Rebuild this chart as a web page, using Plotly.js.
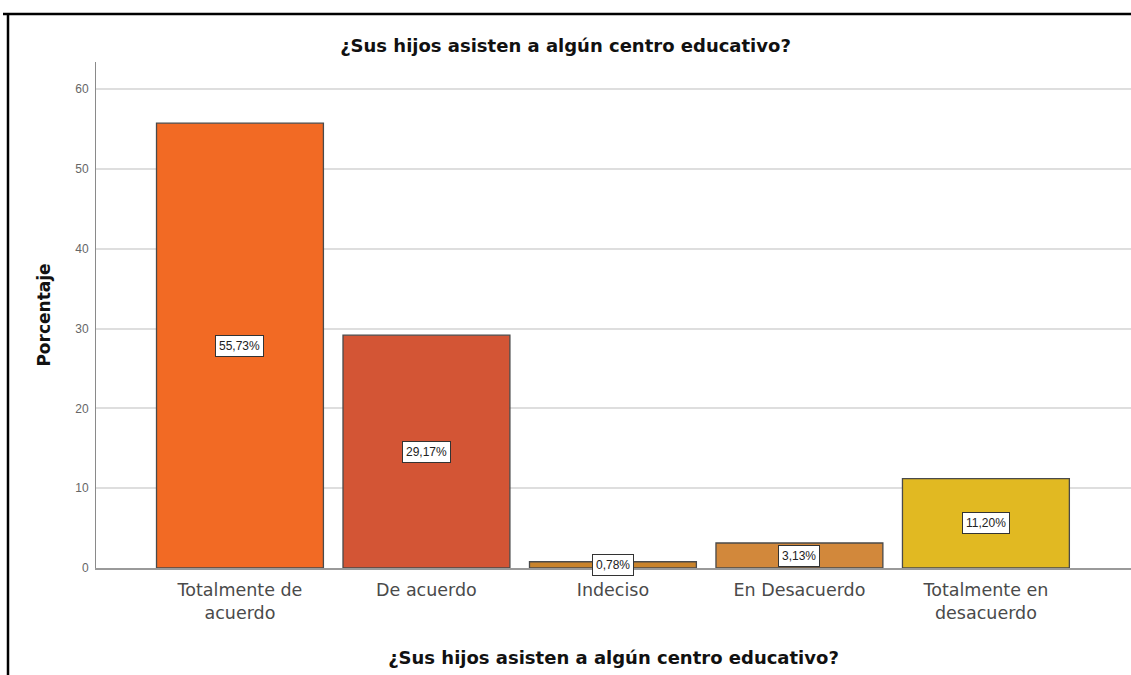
<!DOCTYPE html>
<html>
<head>
<meta charset="utf-8">
<script src="https://cdn.plot.ly/plotly-3.0.1.min.js"></script>
<style>html,body{margin:0;padding:0;background:#fff;}#chart{width:1131px;height:675px;}</style>
</head>
<body>
<div id="chart"></div>
<script>
const chartTitle = '¿Sus hijos asisten a algún centro educativo?';
const categories = ['Totalmente de acuerdo', 'De acuerdo', 'Indeciso', 'En Desacuerdo', 'Totalmente en desacuerdo'];
const tickLabels = ['Totalmente de<br>acuerdo', 'De acuerdo', 'Indeciso', 'En Desacuerdo', 'Totalmente en<br>desacuerdo'];
const percentages = [55.73, 29.17, 0.78, 3.13, 11.20];
const barColors = ['#F26A24', '#D35535', '#C9832B', '#D2883B', '#E1B922'];
const yTickValues = [0, 10, 20, 30, 40, 50, 60];

const fmt = v => v.toFixed(2).replace('.', ',') + '%';

const trace = {
  type: 'bar',
  x: categories,
  y: percentages,
  marker: { color: barColors, line: { color: '#4a4a4a', width: 1.3 } },
  hoverinfo: 'x+y',
  showlegend: false
};

const annotations = categories.map((c, i) => ({
  x: c, y: percentages[i] / 2, xref: 'x', yref: 'y',
  text: fmt(percentages[i]), showarrow: false,
  bgcolor: '#ffffff', bordercolor: '#333333', borderwidth: 1, borderpad: 3,
  font: { family: 'Liberation Sans, Arial, sans-serif', size: 12, color: '#222222' }
}));

const layout = {
  width: 1131, height: 675,
  margin: { l: 96, r: 0, t: 62, b: 107 },
  paper_bgcolor: '#ffffff', plot_bgcolor: '#ffffff',
  bargap: 0.105,
  title: {
    text: '<b>' + chartTitle + '</b>',
    x: 0.5, xref: 'container', xanchor: 'center',
    y: 1 - 46 / 675, yref: 'container', yanchor: 'middle',
    font: { family: 'DejaVu Sans, sans-serif', size: 18, color: '#111111' }
  },
  xaxis: {
    type: 'category',
    range: [-0.772, 4.778],
    tickvals: categories, ticktext: tickLabels,
    showline: true, linecolor: '#9a9a9a', linewidth: 2,
    showgrid: false, zeroline: false, ticks: '',
    ticklabelstandoff: 5,
    tickfont: { family: 'DejaVu Sans, sans-serif', size: 17.5, color: '#4a4a4a' },
    title: {
      text: '<b>' + chartTitle + '</b>', standoff: 30,
      font: { family: 'DejaVu Sans, sans-serif', size: 18, color: '#111111' }
    }
  },
  yaxis: {
    range: [0, 63.4],
    tickvals: yTickValues,
    showline: true, linecolor: '#8a8a8a', linewidth: 1,
    showgrid: true, gridcolor: '#dedede', gridwidth: 2,
    zeroline: false, ticks: '',
    ticklabelstandoff: 4,
    tickfont: { family: 'Liberation Sans, Arial, sans-serif', size: 12, color: '#666666' },
    title: {
      text: '<b>Porcentaje</b>', standoff: 20,
      font: { family: 'DejaVu Sans, sans-serif', size: 17, color: '#111111' }
    }
  },
  annotations: annotations,
  shapes: [
    { type: 'line', xref: 'paper', yref: 'paper', x0: (3 - 96) / 1035, x1: 1.01, y0: (568 - 14) / 506, y1: (568 - 14) / 506, line: { color: '#000000', width: 2.5 } },
    { type: 'line', xref: 'paper', yref: 'paper', x0: (8 - 96) / 1035, x1: (8 - 96) / 1035, y0: (568 - 14) / 506, y1: (568 - 680) / 506, line: { color: '#000000', width: 2.5 } }
  ]
};

Plotly.newPlot('chart', [trace], layout, { displayModeBar: false, staticPlot: true });
</script>
</body>
</html>
